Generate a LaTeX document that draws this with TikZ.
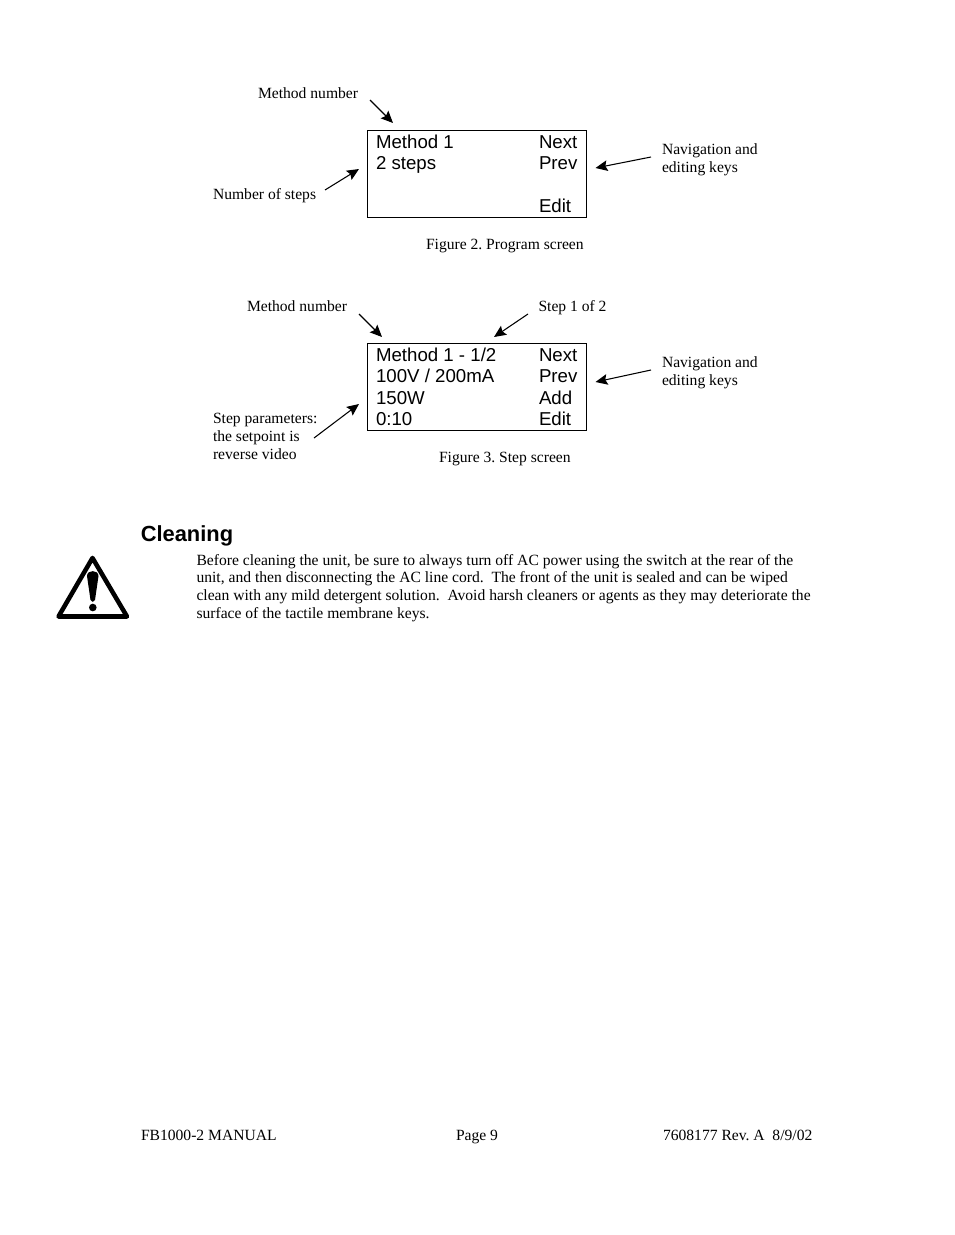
\documentclass[tikz,border=0pt]{standalone}
\usepackage{fontspec}
\setmainfont{Liberation Serif}
\newfontfamily\lcdfont{Liberation Sans}
\usetikzlibrary{arrows.meta}
\frenchspacing
\tikzset{
  x=0.75pt,y=-0.75pt,
  lbl/.style={anchor=base west,inner sep=0pt,outer sep=0pt,font=\fontsize{11.7pt}{13pt}\selectfont},
  lcd/.style={anchor=base west,inner sep=0pt,outer sep=0pt,font=\lcdfont\fontsize{14pt}{16pt}\selectfont},
  screen/.style={draw,line width=0.75pt,inner sep=0pt,outer sep=0pt,anchor=north west,minimum width=164.25pt},
  callout/.style={-{Stealth[length=9pt,width=8pt,inset=1.5pt]},line width=0.8pt},
}
\begin{document}
\begin{tikzpicture}
\useasboundingbox (0,0) rectangle (954,1235);
\fill[white] (0,0) rectangle (954,1235);
% Figure 2
\node[screen,minimum height=65.25pt] (box2) at (367.5,130.5) {};
\node[lcd] (m2a) at (376,148) {Method 1};
\node[lcd] (m2b) at (376,169) {2 steps};
\node[lcd] (k2a) at (539,148) {Next};
\node[lcd] (k2b) at (539,169) {Prev};
\node[lcd] (k2c) at (539,212) {Edit};
\node[lbl] (l2a) at (258,98) {Method number};
\node[lbl] (l2b) at (213,199) {Number of steps};
\node[lbl] (l2c) at (662,154) {Navigation and};
\node[lbl] (l2d) at (662,172) {editing keys};
\node[lbl] (cap2) at (426,249) {Figure 2. Program screen};
\coordinate (a1s) at (370,100); \coordinate (a1e) at (393,123);
\coordinate (a2s) at (325,190); \coordinate (a2e) at (359,169);
\coordinate (a3s) at (651,157); \coordinate (a3e) at (595.5,168);
\draw[callout] (a1s) -- (a1e);
\draw[callout] (a2s) -- (a2e);
\draw[callout] (a3s) -- (a3e);
% Figure 3
\node[screen,minimum height=65.25pt] (box3) at (367.5,343.5) {};
\node[lcd] (m3a) at (376,361) {Method 1 - 1/2};
\node[lcd] (m3b) at (376,382) {100V / 200mA};
\node[lcd] (m3c) at (376,404) {150W};
\node[lcd] (m3d) at (376,425) {0:10};
\node[lcd] (k3a) at (539,361) {Next};
\node[lcd] (k3b) at (539,382) {Prev};
\node[lcd] (k3c) at (539,404) {Add};
\node[lcd] (k3d) at (539,425) {Edit};
\node[lbl] (l3a) at (247,311) {Method number};
\node[lbl] (l3b) at (538.5,311) {Step 1 of 2};
\node[lbl] (l3c) at (662,367) {Navigation and};
\node[lbl] (l3d) at (662,385) {editing keys};
\node[lbl] (l3e) at (213,423) {Step parameters:};
\node[lbl] (l3f) at (213,441) {the setpoint is};
\node[lbl] (l3g) at (213,459) {reverse video};
\node[lbl] (cap3) at (439,462) {Figure 3. Step screen};
\coordinate (b1s) at (359,314); \coordinate (b1e) at (382,337);
\coordinate (b2s) at (528,314); \coordinate (b2e) at (494,337);
\coordinate (b3s) at (651,370); \coordinate (b3e) at (595.5,382);
\coordinate (b4s) at (314,438); \coordinate (b4e) at (359,404);
\draw[callout] (b1s) -- (b1e);
\draw[callout] (b2s) -- (b2e);
\draw[callout] (b3s) -- (b3e);
\draw[callout] (b4s) -- (b4e);
% Cleaning
\node[anchor=base west,inner sep=0pt,font=\lcdfont\bfseries\fontsize{16.4pt}{18pt}\selectfont] (clean) at (140.5,541) {Cleaning};
\node[lbl] (p1) at (196.5,565) {Before cleaning the unit, be sure to always turn off AC power using the switch at the rear of the};
\node[lbl] (p2) at (196.5,582) {unit, and then disconnecting the AC line cord.\ \ The front of the unit is sealed and can be wiped};
\node[lbl] (p3) at (196.5,600) {clean with any mild detergent solution.\ \ Avoid harsh cleaners or agents as they may deteriorate the};
\node[lbl] (p4) at (196.5,618) {surface of the tactile membrane keys.};
% Warning sign
\draw[line width=3.4pt,line join=round] (92.5,558) -- (127,616.5) -- (58.5,616.5) -- cycle;
\fill (87,576) .. controls (87,569.5) and (98.5,569.5) .. (98.5,576) -- (95,600) .. controls (94.5,602.5) and (91,602.5) .. (90.5,600) -- cycle;
\fill (92.8,607.5) circle[radius=3.8];
% Footer
\node[lbl] (f1) at (141,1140) {FB1000-2 MANUAL};
\node[lbl] (f2) at (456,1140) {Page 9};
\node[lbl] (f3) at (663,1140) {7608177 Rev. A\ \ 8/9/02};
\end{tikzpicture}
\end{document}
